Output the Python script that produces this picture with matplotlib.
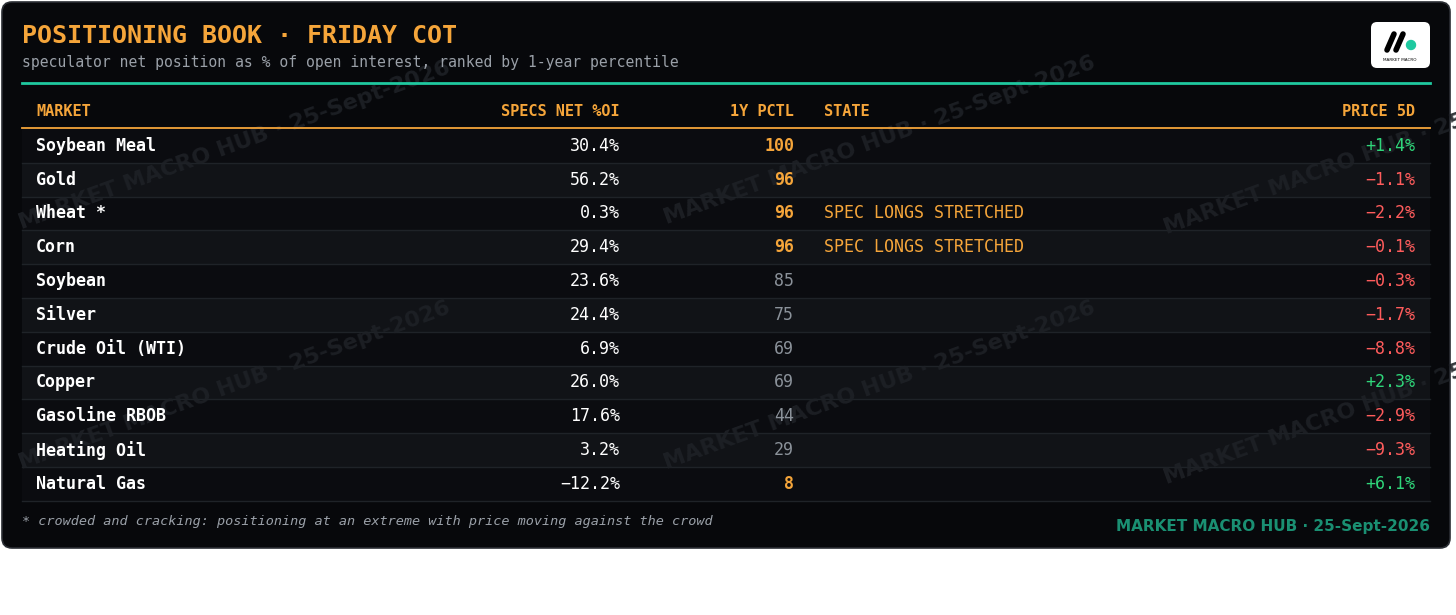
import matplotlib
matplotlib.use("Agg")
import matplotlib.pyplot as plt
from matplotlib.patches import FancyBboxPatch, Rectangle, Circle

markets = ["Soybean Meal", "Gold", "Wheat *", "Corn", "Soybean", "Silver", "Crude Oil (WTI)",
           "Copper", "Gasoline RBOB", "Heating Oil", "Natural Gas"]
specs_net = [30.4, 56.2, 0.3, 29.4, 23.6, 24.4, 6.9, 26.0, 17.6, 3.2, -12.2]
pctl = [100, 96, 96, 96, 85, 75, 69, 69, 44, 29, 8]
state = ["", "", "SPEC LONGS STRETCHED", "SPEC LONGS STRETCHED", "", "", "", "", "", "", ""]
price5d = [1.4, -1.1, -2.2, -0.1, -0.3, -1.7, -8.8, 2.3, -2.9, -9.3, 6.1]
headers = ["MARKET", "SPECS NET %OI", "1Y PCTL", "STATE", "PRICE 5D"]

ORANGE = "#f5a53a"; GRAY = "#9aa0a8"; TEAL = "#1fc9a0"
GREEN = "#2fd67a"; RED = "#ff5c5c"; MONO = "DejaVu Sans Mono"

fig = plt.figure(figsize=(14.56, 6.15), dpi=100)
fig.patch.set_facecolor("white")
ax = fig.add_axes([0, 0, 1, 1])
ax.set_xlim(0, 1456); ax.set_ylim(615, 0); ax.axis("off")

card = FancyBboxPatch((2, 2), 1448, 546, boxstyle="round,pad=0,rounding_size=10",
                      fc="#07080b", ec="#2a2d33", lw=1.2)
ax.add_patch(card)

# watermarks
for cx, cy in [(235, 145), (880, 140), (1380, 150), (235, 385), (880, 385), (1380, 400)]:
    ax.text(cx, cy, "MARKET MACRO HUB · 25-Sept-2026", fontsize=16, fontweight="bold",
            color="#1e2126", alpha=0.9, rotation=20, ha="center", va="center",
            family="DejaVu Sans", zorder=2.7)

ax.text(22, 36, "POSITIONING BOOK · FRIDAY COT", fontsize=18, fontweight="bold", color=ORANGE,
        family=MONO, va="center", zorder=3)
ax.text(22, 62, "speculator net position as % of open interest, ranked by 1-year percentile",
        fontsize=10.6, color=GRAY, family=MONO, va="center", zorder=3)

# logo
ax.add_patch(FancyBboxPatch((1371, 22), 59, 46, boxstyle="round,pad=0,rounding_size=6",
                            fc="white", ec="none", zorder=3))
ax.plot([1387, 1394], [50, 34], color="black", lw=4, solid_capstyle="round", zorder=4)
ax.plot([1396, 1403], [50, 34], color="black", lw=4, solid_capstyle="round", zorder=4)
ax.add_patch(Circle((1411, 45), 4.5, color=TEAL, zorder=4))
ax.text(1400, 60, "MARKET MACRO", fontsize=3, color="black", ha="center", va="center", zorder=4)

ax.plot([22, 1430], [83, 83], color=TEAL, lw=2, zorder=3)

x_left = 22; x_right = 1430
cols = [(36, "left"), (620, "right"), (794, "right"), (824, "left"), (1415, "right")]
for (x, ha), h in zip(cols, headers):
    ax.text(x, 111, h, fontsize=11, fontweight="bold", color=ORANGE, family=MONO,
            ha=ha, va="center", zorder=3)
ax.plot([x_left, x_right], [128, 128], color=ORANGE, lw=1.3, zorder=3)

top = 129; rh = 33.8
for i, m in enumerate(markets):
    y0 = top + i * rh; yc = y0 + rh / 2
    bg = "#0b0c10" if i % 2 == 0 else "#111317"
    ax.add_patch(Rectangle((x_left, y0), x_right - x_left, rh, fc=bg, ec="none", zorder=2))
    ax.plot([x_left, x_right], [y0 + rh, y0 + rh], color="#1f2328", lw=1, zorder=2.5)
    ax.text(36, yc, m, fontsize=12, fontweight="bold", color="white", family=MONO,
            va="center", zorder=3)
    v = specs_net[i]
    ax.text(620, yc, f"{v:.1f}%".replace("-", "−"), fontsize=12, color="white", family=MONO,
            ha="right", va="center", zorder=3)
    p = pctl[i]
    hot = p >= 90 or p <= 10
    ax.text(794, yc, str(p), fontsize=12, fontweight="bold" if hot else "normal",
            color=ORANGE if hot else "#8b929a", family=MONO, ha="right", va="center", zorder=3)
    if state[i]:
        ax.text(824, yc, state[i], fontsize=12, color=ORANGE, family=MONO, va="center", zorder=3)
    pr = price5d[i]
    s = (f"+{pr:.1f}%" if pr > 0 else f"−{abs(pr):.1f}%")
    ax.text(1415, yc, s, fontsize=12, color=GREEN if pr > 0 else RED, family=MONO,
            ha="right", va="center", zorder=3)

ax.text(22, 521, "* crowded and cracking: positioning at an extreme with price moving against the crowd",
        fontsize=9.7, style="italic", color=GRAY, family=MONO, va="center", zorder=3)
ax.text(1430, 527, "MARKET MACRO HUB · 25-Sept-2026", fontsize=11, fontweight="bold",
        color="#1a8f72", family="DejaVu Sans", ha="right", va="center", zorder=3)

fig.savefig("out.png", dpi=100, facecolor="white")
